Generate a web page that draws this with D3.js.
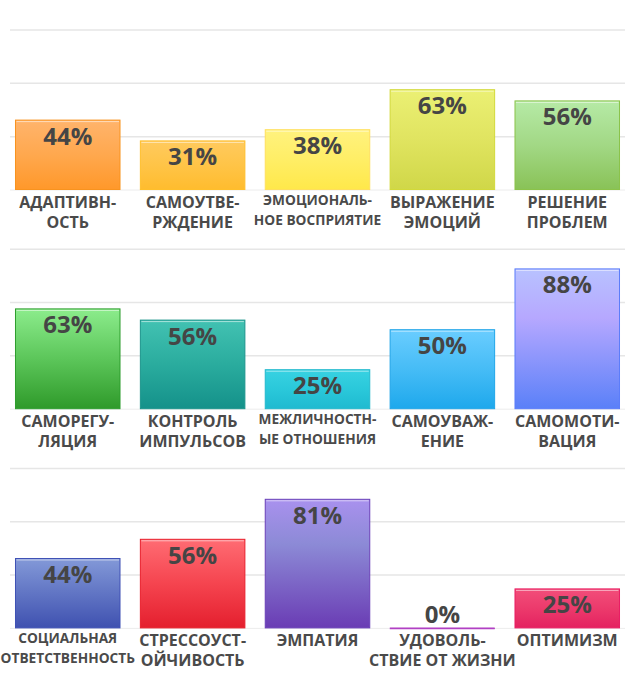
<!DOCTYPE html>
<html>
<head>
<meta charset="utf-8">
<script src="https://cdn.jsdelivr.net/npm/d3@7"></script>
<style>
  html, body { margin: 0; padding: 0; background: #fff; }
  svg { display: block; font-family: "Open Sans", "Noto Sans", sans-serif; }
</style>
</head>
<body>
<svg id="chart" width="635" height="690"></svg>
<script>
// data (percent)
var categories = [
    ['АДАПТИВН-', 'ОСТЬ'],
    ['САМОУТВЕ-', 'РЖДЕНИЕ'],
    ['ЭМОЦИОНАЛЬ-', 'НОЕ ВОСПРИЯТИЕ'],
    ['ВЫРАЖЕНИЕ', 'ЭМОЦИЙ'],
    ['РЕШЕНИЕ', 'ПРОБЛЕМ'],
    ['САМОРЕГУ-', 'ЛЯЦИЯ'],
    ['КОНТРОЛЬ', 'ИМПУЛЬСОВ'],
    ['МЕЖЛИЧНОСТН-', 'ЫЕ ОТНОШЕНИЯ'],
    ['САМОУВАЖ-', 'ЕНИЕ'],
    ['САМОМОТИ-', 'ВАЦИЯ'],
    ['СОЦИАЛЬНАЯ', 'ОТВЕТСТВЕННОСТЬ'],
    ['СТРЕССОУСТ-', 'ОЙЧИВОСТЬ'],
    ['ЭМПАТИЯ'],
    ['УДОВОЛЬ-', 'СТВИЕ ОТ ЖИЗНИ'],
    ['ОПТИМИЗМ']
];
var values = [44, 31, 38, 63, 56, 63, 56, 25, 50, 88, 44, 56, 81, 0, 25];
var gridValues = [0, 100/3, 200/3, 100];

// colours: [top, middle, bottom, border]
var palette = [
    ['#ffb46c', '#ffa84e', '#ff982a', '#f8931f'],
    ['#ffca5e', '#ffc447', '#ffbc2e', '#ffbf2c'],
    ['#fff27e', '#ffee66', '#ffe84a', '#ffdf5e'],
    ['#ebf074', '#e0e460', '#d0d748', '#d2d93a'],
    ['#b6eaa6', '#a2d885', '#89c257', '#8bc34a'],
    ['#8cec8c', '#5cc65a', '#2f9a2a', '#2e9e2e'],
    ['#42c2b2', '#2aac9e', '#14918a', '#1c958c'],
    ['#38d2e2', '#2ac8da', '#1fbad0', '#22b8cc'],
    ['#6acdff', '#46bcf6', '#1ea8ec', '#21a5e8'],
    ['#b8c2ff', '#b6a8ff', '#5a80f8', '#5b7cfa'],
    ['#8399d8', '#6175c4', '#3f51b0', '#3f51b5'],
    ['#ff6c73', '#f5444f', '#e41f2e', '#e8202c'],
    ['#a991ee', '#8c8ad6', '#6a3cb4', '#6a40b8'],
    ['#c050d0', '#b040c0', '#a030b0', '#b03cc4'],
    ['#f24e7a', '#ec3a6c', '#e42260', '#e91e63']
];
var smallLabels = [2, 7, 10];

var svg = d3.select('#chart');
var perRow = 5;
var rowTop = 30, rowStep = 219.2, plotH = 160;

var defs = svg.append('defs');
palette.forEach(function(p, i){
    var g = defs.append('linearGradient').attr('id', 'grad' + i)
        .attr('x1', 0).attr('y1', 0).attr('x2', 0).attr('y2', 1);
    g.append('stop').attr('offset', '0%').attr('stop-color', p[0]);
    g.append('stop').attr('offset', i == 9 || i == 12 ? '35%' : '50%').attr('stop-color', p[1]);
    g.append('stop').attr('offset', '100%').attr('stop-color', p[2]);
});

var x = d3.scaleBand().domain(d3.range(perRow)).range([5, 630]).paddingInner(0.155).paddingOuter(0.08);
var y = d3.scaleLinear().domain([0, 100]).range([plotH, 0]);

for(var r=0; r<3; r++){
    var row = svg.append('g').attr('transform', 'translate(0,' + (rowTop + r*rowStep) + ')');
    var idx = d3.range(r*perRow, r*perRow + perRow);

    row.selectAll('line.grid').data(gridValues).enter().append('line')
        .attr('class', 'grid')
        .attr('x1', 10).attr('x2', 625)
        .attr('y1', function(d){ return y(d); }).attr('y2', function(d){ return y(d); })
        .attr('stroke', function(d){ return d == 0 ? '#ececec' : '#e6e6e6'; })
        .attr('stroke-width', function(d){ return d == 0 ? 1 : 1.5; });

    var bar = row.selectAll('g.bar').data(idx).enter().append('g').attr('class', 'bar')
        .attr('transform', function(d, j){ return 'translate(' + x(j) + ',0)'; });

    bar.append('rect')
        .attr('x', 0.5)
        .attr('y', function(d){ return values[d] > 0 ? y(values[d]) + 0.5 : y(0) - 0.5; })
        .attr('width', x.bandwidth() - 1)
        .attr('height', function(d){ return values[d] > 0 ? y(0) - y(values[d]) - 1 : 1; })
        .attr('fill', function(d){ return 'url(#grad' + d + ')'; })
        .attr('stroke', function(d){ return palette[d][3]; })
        .attr('stroke-width', function(d){ return values[d] > 0 ? 1 : 0.7; });

    // light strip under the top edge
    bar.filter(function(d){ return values[d] > 0; }).append('line')
        .attr('x1', 1.5).attr('x2', x.bandwidth() - 1.5)
        .attr('y1', function(d){ return y(values[d]) + 2; })
        .attr('y2', function(d){ return y(values[d]) + 2; })
        .attr('stroke', '#fff').attr('stroke-opacity', 0.55).attr('stroke-width', 1);

    bar.append('text')
        .attr('x', x.bandwidth()/2)
        .attr('y', function(d){ return values[d] > 10 ? y(values[d]) + 25 : y(0) - 5; })
        .attr('text-anchor', 'middle')
        .attr('font-size', 24).attr('font-weight', 700)
        .attr('fill', '#454545')
        .text(function(d){ return values[d] + '%'; });

    var lab = bar.append('text')
        .attr('text-anchor', 'middle')
        .attr('font-weight', 700)
        .attr('fill', '#4a4a4a')
        .attr('font-size', function(d){ return smallLabels.indexOf(d) >= 0 ? 13.7 : 16; });
    lab.each(function(d){
        var small = smallLabels.indexOf(d) >= 0;
        d3.select(this).selectAll('tspan').data(categories[d]).enter().append('tspan')
            .attr('x', x.bandwidth()/2)
            .attr('y', function(t, k){ return plotH + (small ? 15 : 18) + k*(small ? 19.5 : 20); })
            .text(function(t){ return t; });
    });
}
</script>
</body>
</html>
